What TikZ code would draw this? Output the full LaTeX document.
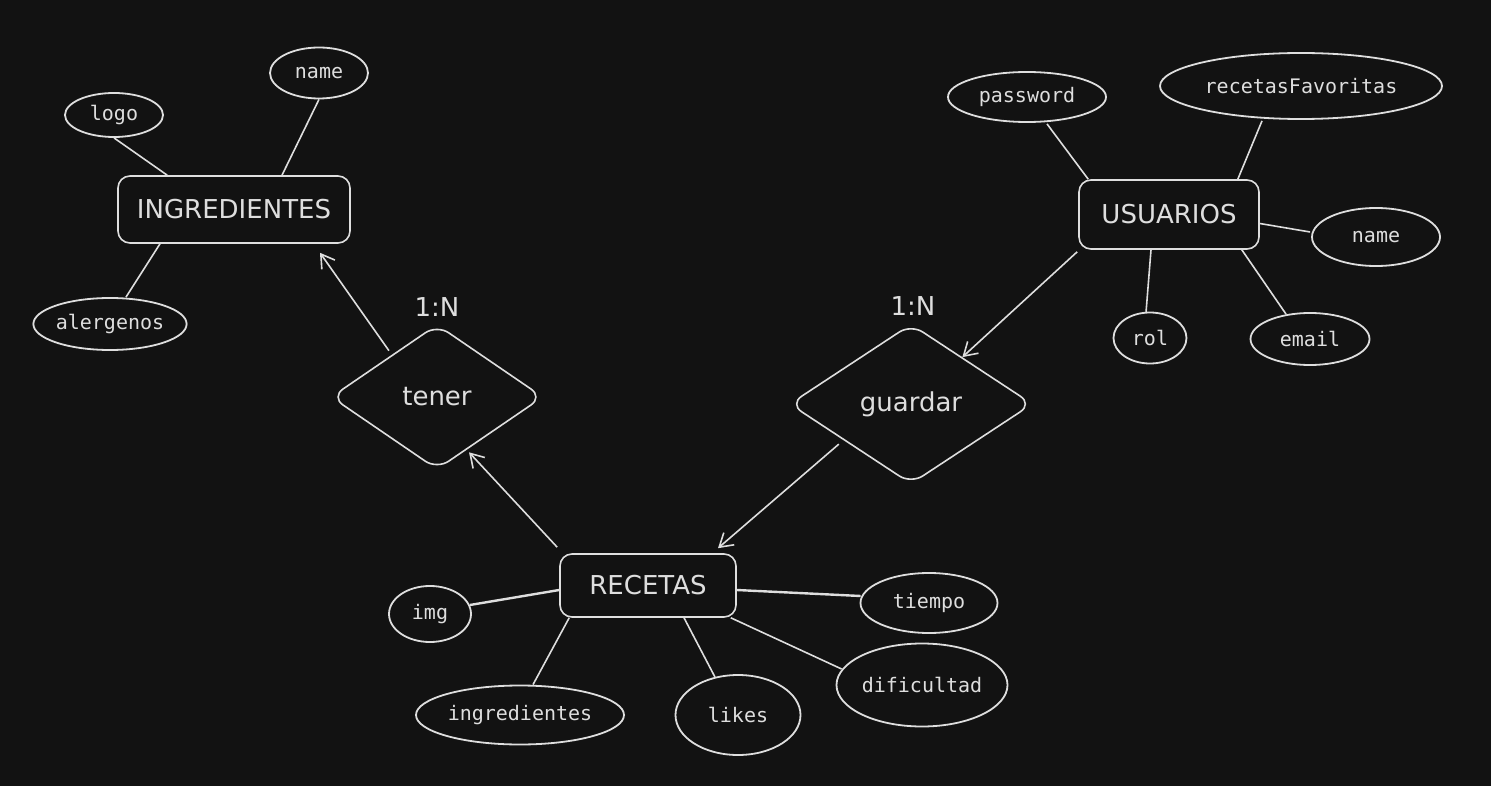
\documentclass[tikz,border=0pt]{standalone}
\usepackage{fontspec}
\usetikzlibrary{shapes.geometric,arrows.meta,calc}
\newfontfamily\monof{DejaVu Sans Mono}
\newfontfamily\entf{DejaVu Sans}
\definecolor{bgc}{HTML}{121212}
\definecolor{inkc}{HTML}{DEDEDE}
\begin{document}
\begin{tikzpicture}[x=1pt,y=-1pt,
  every node/.style={text=inkc},
  entity/.style={draw=inkc,line width=1.6pt,rounded corners=12pt,inner sep=0pt,font=\entf\fontsize{26}{30}\selectfont},
  rel/.style={diamond,draw=inkc,line width=1.6pt,rounded corners=14pt,inner sep=0pt,font=\entf\fontsize{26}{30}\selectfont},
  attr/.style={ellipse,draw=inkc,line width=1.8pt,inner sep=0pt,font=\monof\fontsize{20}{24}\selectfont},
  card/.style={font=\entf\fontsize{26}{30}\selectfont},
  link/.style={draw=inkc,line width=1.6pt},
  thicklink/.style={draw=inkc,line width=2.4pt},
  arr/.style={draw=inkc,line width=1.6pt,-{Straight Barb[length=13pt,width=16pt]}}]
\fill[bgc] (0,0) rectangle (1491,786);
\useasboundingbox (0,0) rectangle (1491,786);

% entities
\node[entity,minimum width=232pt,minimum height=67pt] (ing) at (234,209.5) {INGREDIENTES};
\node[entity,minimum width=180pt,minimum height=69pt] (usr) at (1169,214.5) {USUARIOS};
\node[entity,minimum width=176pt,minimum height=63pt] (rec) at (648,585.5) {RECETAS};

% relationships
\node[rel,minimum width=212pt,minimum height=145pt] (tener) at (437,397) {tener};
\node[rel,minimum width=243pt,minimum height=160pt] (guardar) at (911,404) {guardar};
\node[card] (n1) at (437,307) {1:N};
\node[card] (n2) at (913,306) {1:N};

% attributes INGREDIENTES
\node[attr,minimum width=98pt,minimum height=44pt] (logo) at (114,115) {logo};
\node[attr,minimum width=98pt,minimum height=51pt] (ingname) at (319,73) {name};
\node[attr,minimum width=152pt,minimum height=52pt] (alergenos) at (110,324) {alergenos};

% attributes USUARIOS
\node[attr,minimum width=158pt,minimum height=50pt] (password) at (1027,97) {password};
\node[attr,minimum width=282pt,minimum height=66pt] (recfav) at (1301,86) {recetasFavoritas};
\node[attr,minimum width=128pt,minimum height=58pt] (usrname) at (1376,237) {name};
\node[attr,minimum width=73pt,minimum height=51pt] (rol) at (1150,338) {rol};
\node[attr,minimum width=119pt,minimum height=52pt] (email) at (1310,339) {email};

% attributes RECETAS
\node[attr,minimum width=82pt,minimum height=56pt] (img) at (430,614) {img};
\node[attr,minimum width=208pt,minimum height=59pt] (ingredientes) at (520,715) {ingredientes};
\node[attr,minimum width=125pt,minimum height=80pt] (likes) at (738,715) {likes};
\node[attr,minimum width=171pt,minimum height=83pt] (dificultad) at (922,685) {dificultad};
\node[attr,minimum width=137pt,minimum height=60pt] (tiempo) at (929,603) {tiempo};

% attribute links
\draw[link] (logo.south) -- ($(ing.north west)+(50,0)$);
\draw[link] (ingname.south) -- ($(ing.north)+(48,0)$);
\draw[link] ($(ing.south)+(-74,0)$) -- ($(alergenos.north)+(16,0)$);

\draw[link] ($(password.south)+(20,1)$) -- ($(usr.north west)+(10,0)$);
\draw[link] ($(recfav.south)+(-39,1)$) -- ($(usr.north east)+(-22,0)$);
\draw[link] ($(usr.east)+(0,9)$) -- ($(usrname.west)+(-1,-5)$);
\draw[link] ($(usr.south)+(-18,0)$) -- ($(rol.north)+(-4,1)$);
\draw[link] ($(usr.south east)+(-18,0)$) -- ($(email.north)+(-24,2)$);

\draw[thicklink] ($(rec.west)+(0,4.5)$) -- ($(img.east)+(-2,-9)$);
\draw[link] ($(rec.south west)+(10,0)$) -- ($(ingredientes.north)+(13,0)$);
\draw[link] ($(rec.south)+(36,0)$) -- ($(likes.north)+(-23,3)$);
\draw[link] ($(rec.south east)+(-6,0)$) -- ($(dificultad.west)+(6,-16)$);
\draw[thicklink] ($(rec.east)+(0,4.5)$) -- ($(tiempo.west)+(1,-7)$);

% relationship arrows
\draw[arr] ($(tener.west)!0.55!(tener.north)+(0,-6)$) -- ($(ing.south)+(86,9)$);
\draw[arr] ($(rec.north west)+(-2,-6)$) -- ($(tener.south)!0.3!(tener.east)+(0,4)$);
\draw[arr] ($(guardar.west)!0.41!(guardar.south)+(0,7)$) -- ($(rec.north)+(70,-5)$);
\draw[arr] ($(usr.south west)+(-1,2)$) -- ($(guardar.north)!0.42!(guardar.east)$);
\end{tikzpicture}
\end{document}
